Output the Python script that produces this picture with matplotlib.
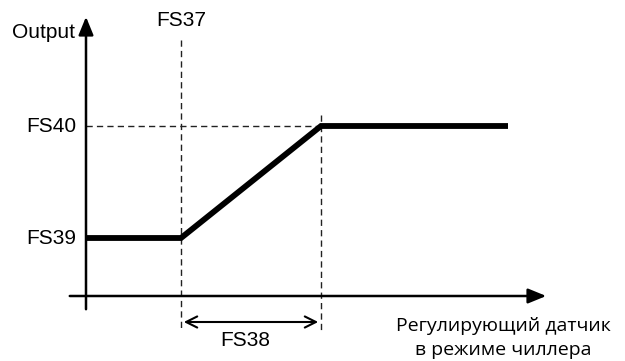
import matplotlib.pyplot as plt

# output levels and setpoints (drawing units, y grows downward)
y_fs39 = 238
y_fs40 = 126
x_origin = 86
x_fs37 = 181
x_fs37_fs38 = 321
x_end = 508
axis_y = 296

curve_x = [x_origin, x_fs37, x_fs37_fs38, x_end]
curve_y = [y_fs39, y_fs39, y_fs40, y_fs40]

fig = plt.figure(figsize=(6.25, 3.61), dpi=100)
ax = fig.add_axes([0, 0, 1, 1])
ax.set_xlim(0, 625)
ax.set_ylim(361, 0)
ax.axis('off')

arial = 'Liberation Sans'

# axes with arrow heads
ax.annotate('', xy=(x_origin, 14), xytext=(x_origin, 312),
            arrowprops=dict(arrowstyle='-|>,head_length=1.1,head_width=0.45', lw=1.8, color='black'))
ax.annotate('', xy=(549, axis_y), xytext=(67, axis_y),
            arrowprops=dict(arrowstyle='-|>,head_length=1.1,head_width=0.45', lw=1.8, color='black'))

# dashed guides
dash = dict(color='#222222', lw=1.0, ls=(0, (4.5, 3)))
ax.plot([x_fs37, x_fs37], [40, 330], **dash)
ax.plot([x_fs37_fs38, x_fs37_fs38], [115, 330], **dash)
ax.plot([x_origin, x_fs37_fs38], [y_fs40, y_fs40], **dash)

# regulation curve
ax.plot(curve_x, curve_y, color='black', lw=4.2, solid_capstyle='butt', solid_joinstyle='miter')

# FS38 span
ax.annotate('', xy=(x_fs37, 322), xytext=(x_fs37_fs38, 322),
            arrowprops=dict(arrowstyle='<->,head_length=0.8,head_width=0.4', lw=1.5, color='black'))

fs = 15
ax.text(x_fs37, 20, 'FS37', fontsize=fs, family=arial, ha='center', va='center')
ax.text(245, 340, 'FS38', fontsize=fs, family=arial, ha='center', va='center')
ax.text(76, y_fs40, 'FS40', fontsize=fs, family=arial, ha='right', va='center')
ax.text(76, y_fs39, 'FS39', fontsize=fs, family=arial, ha='right', va='center')
ax.text(75, 33, 'Output', fontsize=fs, family=arial, ha='right', va='center')

ax.text(503, 326, 'Регулирующий датчик', fontsize=14, family='Open Sans', ha='center', va='center')
ax.text(503, 350, 'в режиме чиллера', fontsize=14, family='Open Sans', ha='center', va='center')

fig.savefig('out.png', dpi=100)
